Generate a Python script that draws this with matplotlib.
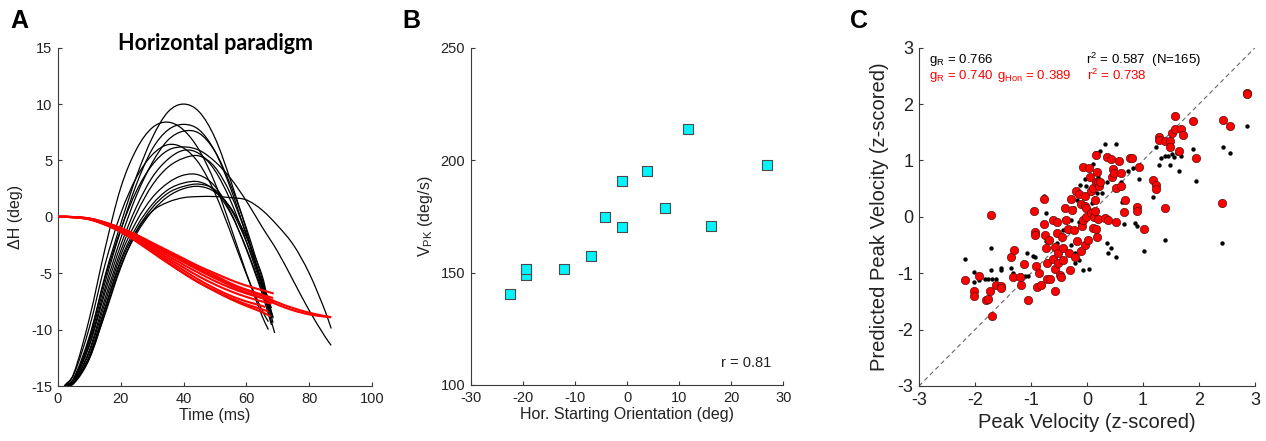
import numpy as np
import matplotlib
matplotlib.use('Agg')
import matplotlib.pyplot as plt
from matplotlib.path import Path
from matplotlib.patches import PathPatch

plt.rcParams['font.family'] = ['Liberation Sans', 'DejaVu Sans']
plt.rcParams['mathtext.fontset'] = 'custom'
plt.rcParams['mathtext.rm'] = 'Liberation Sans'
plt.rcParams['mathtext.it'] = 'Liberation Sans'
plt.rcParams['mathtext.bf'] = 'Liberation Sans:bold'
plt.rcParams['axes.unicode_minus'] = False

# ---------------- Panel A data ----------------
t_black = [2, 5, 10, 15, 20, 25, 30, 35, 40, 45, 50, 55, 60, 65]
t_black_long_tail = [70, 75, 80, 85, 87]

dh_black_01 = [-15, -14.4, -10.8, -5.2, -0.6, 3.6, 7.0, 9.3, 10.0, 9.3, 7.0, 3.2, -1.2, -6.3]
dh_black_02 = [-15, -13.9, -9.0, -2.8, 2.6, 6.0, 7.9, 8.4, 7.7, 5.9, 3.0, -0.9, -5.0, -8.8]
dh_black_03 = [-15, -14.4, -11.0, -5.8, -1.2, 2.9, 6.0, 7.7, 8.2, 7.7, 5.8, 2.5, -1.6, -6.0]
dh_black_04 = [-15, -14.5, -11.3, -6.3, -1.9, 1.9, 4.8, 6.8, 7.6, 7.4, 5.8, 2.8, -1.0, -5.5]
dh_black_05 = [-15, -14.0, -9.8, -4.2, 0.3, 3.5, 5.5, 6.4, 6.1, 4.7, 2.1, -1.4, -5.1, -8.3]
dh_black_06 = [-15, -14.5, -11.4, -6.7, -2.5, 0.9, 3.5, 5.1, 5.9, 5.6, 4.1, 1.4, -2.2, -6.3]
dh_black_07 = [-15, -14.6, -11.8, -7.2, -3.0, 0.3, 2.8, 4.4, 5.2, 5.4, 4.4, 2.0, -1.6, -5.8]
dh_black_10 = [-15, -14.6, -12.0, -7.6, -3.4, -0.4, 1.7, 3.0, 3.7, 3.7, 2.7, 0.4, -2.9, -6.8]
dh_black_11 = [-15, -14.7, -12.3, -8.0, -3.8, -0.9, 1.1, 2.4, 3.0, 3.1, 2.3, 0.3, -2.8, -6.5]
dh_black_12 = [-15, -14.7, -12.4, -8.2, -4.0, -1.2, 0.8, 2.1, 2.7, 2.9, 2.4, 0.7, -2.2, -5.8]
dh_black_13 = [-15, -14.8, -12.6, -8.5, -4.3, -1.5, 0.5, 1.8, 2.5, 2.7, 2.2, 0.8, -1.8, -5.2]
black_end_t = [69, 67, 68.5, 68.5, 67, 68, 68.5, 68, 67.5, 68, 67]
black_end_dh = [-10.3, -10.0, -9.4, -9.0, -9.3, -8.7, -8.9, -9.6, -8.4, -8.1, -7.6]

# the two long trials (to 87 ms)
dh_black_08 = [-15, -14.3, -10.6, -5.4, -1.1, 2.3, 4.6, 5.9, 6.2, 5.9, 4.9, 3.4, 1.4, -0.9]
dh_black_08_tail = [-3.1, -5.7, -8.3, -10.6, -11.4]
dh_black_09 = [-15, -14.7, -12.5, -8.6, -4.5, -1.3, 0.5, 1.3, 1.7, 1.8, 1.8, 1.7, 1.5, 0.6]
dh_black_09_tail = [-0.8, -2.5, -5.0, -8.3, -9.9]

t_red = [0, 5, 10, 15, 20, 25, 30, 35, 40, 45, 50, 55, 60, 65]
t_red_long_tail = [70, 75, 80, 85, 87]
dh_red_01 = [0, -0.02, -0.15, -0.5, -1.0, -1.6, -2.3, -3.0, -3.7, -4.4, -5.0, -5.6, -6.1, -6.5]
dh_red_02 = [0, -0.02, -0.17, -0.55, -1.1, -1.75, -2.5, -3.25, -4.0, -4.7, -5.35, -5.95, -6.45, -6.9]
dh_red_03 = [0, -0.02, -0.18, -0.6, -1.15, -1.85, -2.65, -3.45, -4.25, -5.0, -5.7, -6.3, -6.8, -7.2]
dh_red_04 = [0, -0.03, -0.2, -0.62, -1.2, -1.95, -2.8, -3.65, -4.5, -5.3, -6.0, -6.6, -7.1, -7.5]
dh_red_05 = [0, -0.03, -0.2, -0.65, -1.25, -2.05, -2.95, -3.85, -4.75, -5.6, -6.35, -7.0, -7.5, -7.9]
dh_red_06 = [0, -0.03, -0.22, -0.68, -1.3, -2.15, -3.1, -4.05, -5.0, -5.85, -6.55, -7.2, -7.75, -8.2]
dh_red_07 = [0, -0.03, -0.22, -0.7, -1.35, -2.2, -3.15, -4.1, -5.0, -5.85, -6.6, -7.3, -7.9, -8.45]
red_end_t = [68.7, 68.5, 68.7, 68, 66, 67, 67.6]
red_end_dh = [-6.8, -7.2, -7.5, -7.7, -8.0, -8.4, -8.8]
dh_red_08 = [0, -0.02, -0.15, -0.5, -1.0, -1.6, -2.35, -3.1, -3.85, -4.55, -5.2, -5.9, -6.5, -7.0]
dh_red_08_tail = [-7.6, -8.1, -8.5, -8.8, -8.9]
dh_red_09 = [0, -0.02, -0.16, -0.53, -1.05, -1.7, -2.45, -3.2, -4.0, -4.75, -5.45, -6.1, -6.7, -7.2]
dh_red_09_tail = [-7.8, -8.3, -8.65, -8.85, -8.9]

# ---------------- Panel B data ----------------
hor_orient = [-22.45, -19.4, -19.4, -12.0, -6.84, -4.28, -0.95, -0.95, 3.78, 7.36, 11.78, 16.13, 26.88]
v_pk = [140.5, 148.9, 151.6, 151.7, 157.5, 174.9, 170.1, 190.7, 195.3, 178.7, 213.8, 170.9, 197.8]

# ---------------- Panel C data ----------------
red_x = [-1.72, -2.17, -2.02, -2.02, -1.92, -1.81, -1.76, -1.74, -1.70, -1.63, -1.54, -1.54,
         -1.36, -1.30, -1.33, -1.20, -1.18, -1.13, -1.06, -0.95, -0.92, -0.92, -0.91, -0.90,
         -0.85, -0.82, -0.77, -0.76, -0.75, -0.74, -0.72, -0.72, -0.67, -0.66, -0.60, -0.60,
         -0.58, -0.57, -0.57, -0.54, -0.53, -0.52, -0.51, -0.48, -0.47, -0.45, -0.43, -0.42,
         -0.39, -0.37, -0.34, -0.33, -0.30, -0.29, -0.26, -0.24, -0.21, -0.19, -0.17, -0.14,
         -0.11, -0.10, -0.09, -0.08, -0.07, -0.04, -0.04, -0.04, -0.01, -0.01, 0.02, 0.03,
         0.05, 0.07, 0.08, 0.10, 0.11, 0.12, 0.14, 0.15, 0.16, 0.16, 0.16, 0.17, 0.18, 0.20,
         0.20, 0.22, 0.24, 0.33, 0.35, 0.38, 0.42, 0.45, 0.46, 0.49, 0.51, 0.52, 0.58, 0.60,
         0.61, 0.66, 0.68, 0.76, 0.80, 0.89, 0.89, 0.92, 1.01, 1.17, 1.24, 1.23, 1.28, 1.29,
         1.39, 1.39, 1.48, 1.49, 1.52, 1.58, 1.57, 1.65, 1.68, 1.71, 1.89, 1.95, 2.41, 2.43,
         2.56, 2.85, 2.86]
red_y = [0.03, -1.12, -1.31, -1.40, -1.05, -1.47, -1.46, -1.31, -1.76, -1.21, -1.23, -1.27,
         -0.72, -0.59, -1.06, -1.07, -1.21, -0.84, -1.47, 0.10, -0.26, -0.32, -0.88, -1.25,
         -1.00, -1.21, 0.31, -0.13, -0.33, -0.56, -0.82, -1.10, -0.41, -1.11, -0.05, -0.74,
         -0.53, -0.92, -1.32, -0.29, -0.10, -0.65, -0.82, -1.03, -1.06, -0.35, -0.56, -0.76,
         0.15, -0.06, -0.22, -0.65, -0.95, 0.32, 0.12, -0.23, -0.71, 0.45, -0.42, 0.41,
         -0.60, 0.23, -0.16, -0.06, 0.88, 0.37, -0.50, 0.20, 0.15, 0.00, -0.41, 0.86,
         0.71, 0.46, 0.06, -0.20, 0.51, -0.01, 0.11, 0.30, -0.21, 0.62, 1.09, -0.35, 0.79, 0.62,
         -0.03, 0.55, 0.62, -0.02, 1.07, -0.06, 1.03, 0.71, 0.85, 0.77, 0.51, -0.10, 0.99, 0.77,
         0.54, 0.09, 0.30, 1.04, 1.05, 0.17, 0.11, 0.89, -0.21, 0.65, 0.56, 0.49, 1.41, 1.36,
         0.15, 1.35, 1.35, 1.23, 1.48, 1.78, 1.56, 1.17, 1.56, 1.46, 1.70, 1.04, 0.24, 1.71,
         1.62, 2.19, 2.17]

black_x = [-2.17, -2.02, -2.02, -1.92, -1.82, -1.76, -1.72, -1.72, -1.70, -1.63, -1.53, -1.53,
           -1.36, -1.33, -1.17, -1.11, -1.05, -1.08, -0.96, -0.92, -0.77, -0.73, -0.73, -0.63,
           -0.54, -0.48, -0.45, -0.42, -0.41, -0.36, -0.34, -0.29, -0.28, -0.27, -0.24, -0.22,
           -0.21, -0.17, -0.15, -0.14, -0.12, -0.08, -0.07, -0.04, -0.01, 0.03, 0.05, 0.09,
           0.10, 0.12, 0.14, 0.17, 0.18, 0.20, 0.23, 0.26, 0.32, 0.35, 0.35, 0.38, 0.42, 0.51,
           0.52, 0.59, 0.61, 0.62, 0.66, 0.74, 0.83, 0.86, 0.89, 0.92, 1.01, 1.17, 1.23, 1.28,
           1.32, 1.39, 1.39, 1.45, 1.49, 1.52, 1.55, 1.60, 1.65, 1.68, 1.89, 1.95, 2.43, 2.41,
           2.56, 2.86]
black_y = [-0.74, -0.98, -1.15, -1.12, -1.11, -1.11, -0.56, -0.94, -1.11, -1.11, -0.94, -0.90,
           -0.91, -1.00, -1.04, -1.05, -1.05, -0.65, -0.69, -0.71, 0.37, 0.07, -0.43, -0.74,
           -0.47, -0.33, -0.33, -0.23, -0.03, -0.04, -0.25, -0.06, -0.50, -0.23, 0.15, -0.82,
           -0.65, 0.30, -0.10, -0.76, 0.57, 0.35, -0.94, 0.67, 0.54, -0.93, 0.12, 0.24,
           0.94, 0.64, 1.13, 0.43, 1.13, 0.71, 1.16, 0.42, 1.29, 0.62, -0.47, -0.64, -0.56, 1.30,
           -0.71, 0.80, 0.62, 0.27, -0.13, 0.82, 0.86, -0.11, -0.17, 0.67, -0.60, 0.36, 1.24, 0.92,
           1.04, -0.41, 1.08, 1.08, 0.92, 1.11, 1.07, 1.13, 0.82, 1.08, 1.20, 0.64, 1.24, -0.46,
           1.13, 1.62]

# ---------------- helpers ----------------
AX_COLOR = '#3a3a3a'


def smooth_path(x, y):
    """Smooth cubic Hermite curve through the read points (x increasing)."""
    x = np.asarray(x, float)
    y = np.asarray(y, float)
    n = len(x)
    m = np.empty(n)
    m[0] = (y[1] - y[0]) / (x[1] - x[0])
    m[-1] = (y[-1] - y[-2]) / (x[-1] - x[-2])
    for i in range(1, n - 1):
        m[i] = (y[i + 1] - y[i - 1]) / (x[i + 1] - x[i - 1])
    verts = [(x[0], y[0])]
    codes = [Path.MOVETO]
    for i in range(n - 1):
        h = x[i + 1] - x[i]
        verts += [(x[i] + h / 3, y[i] + m[i] * h / 3),
                  (x[i + 1] - h / 3, y[i + 1] - m[i + 1] * h / 3),
                  (x[i + 1], y[i + 1])]
        codes += [Path.CURVE4] * 3
    return Path(verts, codes)


def style_axes(ax, fs):
    for s in ['top', 'right']:
        ax.spines[s].set_visible(False)
    for s in ['left', 'bottom']:
        ax.spines[s].set_color(AX_COLOR)
        ax.spines[s].set_linewidth(0.8)
    ax.tick_params(direction='in', length=3, width=0.8, colors=AX_COLOR,
                   labelsize=fs, labelcolor='#222222', pad=4)


fig = plt.figure(figsize=(12.66, 4.41), dpi=100)
W, H = 1266.0, 441.0

# ---------------- Panel A ----------------
axA = fig.add_axes([58 / W, 1 - 386 / H, 314 / W, 338.3 / H])
style_axes(axA, 10.5)

short_black = [dh_black_01, dh_black_02, dh_black_03, dh_black_04, dh_black_05, dh_black_06,
               dh_black_07, dh_black_10, dh_black_11, dh_black_12, dh_black_13]
for ys, te, ye in zip(short_black, black_end_t, black_end_dh):
    axA.add_patch(PathPatch(smooth_path(t_black + [te], ys + [ye]), fill=False,
                            edgecolor='black', lw=0.9, zorder=2))
for ys, tail in [(dh_black_08, dh_black_08_tail), (dh_black_09, dh_black_09_tail)]:
    axA.add_patch(PathPatch(smooth_path(t_black + t_black_long_tail, ys + tail), fill=False,
                            edgecolor='black', lw=0.9, zorder=2))

short_red = [dh_red_01, dh_red_02, dh_red_03, dh_red_04, dh_red_05, dh_red_06, dh_red_07]
for ys, te, ye in zip(short_red, red_end_t, red_end_dh):
    axA.add_patch(PathPatch(smooth_path(t_red + [te], ys + [ye]), fill=False,
                            edgecolor='#ff0000', lw=1.5, zorder=3))
for ys, tail in [(dh_red_08, dh_red_08_tail), (dh_red_09, dh_red_09_tail)]:
    axA.add_patch(PathPatch(smooth_path(t_red + t_red_long_tail, ys + tail), fill=False,
                            edgecolor='#ff0000', lw=1.5, zorder=3))

axA.set_xlim(0, 100)
axA.set_ylim(-15, 15)
axA.set_xticks([0, 20, 40, 60, 80, 100])
axA.set_yticks([-15, -10, -5, 0, 5, 10, 15])
axA.set_xlabel('Time (ms)', fontsize=11.5, color='#222222', labelpad=2)
axA.set_ylabel('ΔH (deg)', fontsize=11.5, color='#222222', labelpad=6)
axA.text(0.5, 0.993, 'Horizontal paradigm', transform=axA.transAxes, ha='center',
         va='baseline', fontsize=15.5, fontweight='bold', family=['Lato', 'DejaVu Sans'])

# ---------------- Panel B ----------------
axB = fig.add_axes([470.7 / W, 1 - 385 / H, 312.6 / W, 337.3 / H])
style_axes(axB, 10.5)
axB.scatter(hor_orient, v_pk, marker='s', s=60, facecolor='#00f5ff', edgecolor='#4a4a4a',
            linewidth=0.8, zorder=3)
axB.set_xlim(-30, 30)
axB.set_ylim(100, 250)
axB.set_xticks([-30, -20, -10, 0, 10, 20, 30])
axB.set_yticks([100, 150, 200, 250])
axB.set_xlabel('Hor. Starting Orientation (deg)', fontsize=11.5, color='#222222', labelpad=2)
axB.set_ylabel(r'V$_{\mathregular{PK}}$ (deg/s)', fontsize=11.5, color='#222222', labelpad=4)
axB.text(18.0, 110, 'r = 0.81', fontsize=10.5, color='#222222', va='center')

# ---------------- Panel C ----------------
axC = fig.add_axes([919 / W, 1 - 386 / H, 336 / W, 338.3 / H])
style_axes(axC, 13)
axC.plot([-3, 3], [-3, 3], color='#666666', lw=0.8, dashes=(4, 3), zorder=1)
axC.scatter(black_x, black_y, s=10, color='black', linewidth=0, zorder=2)
axC.scatter(red_x, red_y, s=36, facecolor='#ff0000', edgecolor='#5a1010', linewidth=0.5,
            zorder=3)
axC.set_xlim(-3, 3)
axC.set_ylim(-3, 3)
axC.set_xticks([-3, -2, -1, 0, 1, 2, 3])
axC.set_yticks([-3, -2, -1, 0, 1, 2, 3])
axC.set_xlabel('Peak Velocity (z-scored)', fontsize=14.5, color='#222222', labelpad=3)
axC.set_ylabel('Predicted Peak Velocity (z-scored)', fontsize=14.5, color='#222222', labelpad=6)

fs_c = 9.5
axC.text(-2.82, 2.79, r'g$_{\mathregular{R}}$ = 0.766', fontsize=fs_c, color='black', va='center')
axC.text(-0.02, 2.79, r'r$^{\mathregular{2}}$ = 0.587  (N=165)', fontsize=fs_c, color='black',
         va='center')
axC.text(-2.82, 2.50, r'g$_{\mathregular{R}}$ = 0.740', fontsize=fs_c, color='#ff0000', va='center')
axC.text(-1.60, 2.50, r'g$_{\mathregular{Hon}}$ = 0.389', fontsize=fs_c, color='#ff0000',
         va='center')
axC.text(0.0, 2.50, r'r$^{\mathregular{2}}$ = 0.738', fontsize=fs_c, color='#ff0000', va='center')

# ---------------- Panel letters ----------------
for lx, lab in [(10, 'A'), (402, 'B'), (850, 'C')]:
    fig.text(lx / W, 1 - 28 / H, lab, fontsize=18, fontweight='bold', ha='left',
             va='baseline', color='black')

fig.savefig('out.png', dpi=100, facecolor='white')
